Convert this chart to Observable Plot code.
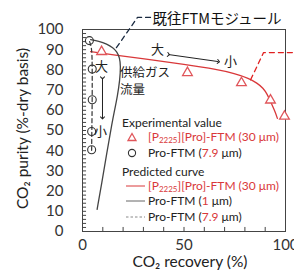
<!DOCTYPE html>
<html><head><meta charset="utf-8">
<script src="https://cdn.jsdelivr.net/npm/d3@7"></script>
<script src="https://cdn.jsdelivr.net/npm/@observablehq/plot@0.6"></script>
<style>
body{margin:0;background:#fff;}
#wrap{position:relative;width:294px;height:270px;overflow:hidden;font-family:Lato,"Open Sans",sans-serif;}
#legend .row{position:absolute;white-space:nowrap;font-size:12px;line-height:14px;color:#222;display:flex;align-items:center;}
#legend .red{color:#d9383a;}
#legend sub{font-size:8px;vertical-align:-2px;line-height:0;}
</style>
</head><body>
<div id="wrap"></div>
<script>
// Experimental: [P2225][Pro]-FTM (30 um)
const redExpX = [9.4, 51.7, 78.3, 92.6, 99.5];
const redExpY = [89, 78.6, 73.6, 65, 57];
// Experimental: Pro-FTM (7.9 um)
const proExpX = [3.4, 4.8, 4.8, 4.5, 4.5];
const proExpY = [94.5, 80.4, 65.2, 49.5, 40.5];
// Predicted: [P2225][Pro]-FTM (30 um)
const redCurveX = [4, 15, 33.5, 50, 66, 75, 82, 86, 89, 91, 93, 95, 96];
const redCurveY = [89, 87.5, 85.1, 82.7, 80.3, 78.2, 75.8, 73.5, 71, 68, 63.5, 59, 56];
// Predicted: Pro-FTM (1 um)
const pro1X = [4, 8, 12, 15, 17, 18.3, 18.8, 18.4, 17.2, 15.8, 14.6, 12, 9.5, 7.2];
const pro1Y = [95, 94.2, 92.8, 91, 89, 86, 82, 75, 67, 60, 54, 39, 24, 11];
// Predicted: Pro-FTM (7.9 um)
const pro79X = [3.5, 4.5, 4.8, 4.8, 4.6, 4.5];
const pro79Y = [94, 91, 85, 65, 50, 40];

const xTickLabels = [0, 50, 100];
const yTickLabels = [0, 10, 20, 30, 40, 50, 60, 70, 80, 90, 100];
const xMinorTicks = [10, 20, 30, 40, 50, 60, 70, 80, 90];
const yMinorTicks = d3.range(2, 100, 2);

const xTitle = "CO₂ recovery (%)";
const yTitle = "CO₂ purity (%-dry basis)";

// annotations (data coordinates)
const jpLabels = [
  {x: 9.4, y: 81.6, t: "大"},
  {x: 8.9, y: 49.3, t: "小"},
  {x: 36.9, y: 90, t: "大"},
  {x: 72.9, y: 84, t: "小"},
];
const feedLabels = [
  {x: 18.5, y: 78.6, t: "供給ガス"},
  {x: 18.5, y: 70.1, t: "流量"}
];
const calloutTitle = [{x: 34.5, y: 105.2, t: "既往FTMモジュール"}];
const arrows = [
  {x1: 9.85, y1: 76.1, x2: 9.85, y2: 56.2},
  {x1: 42.4, y1: 87.6, x2: 67, y2: 84.1}
];
const blackCallout = [[16.7, 91], [27.1, 106], [33.5, 106]];
const redCallout = [[82.8, 75.1], [89.2, 88.6], [106, 88.6]];

const red = "#d9383a";
const redPt = "#e0555a";

const plot = Plot.plot({
  width: 294, height: 270,
  marginLeft: 82, marginRight: 9, marginTop: 29, marginBottom: 39,
  style: {fontFamily: "Lato, 'Open Sans', sans-serif", fontSize: "14px", color: "#333", overflow: "visible"},
  x: {domain: [0, 100], axis: null},
  y: {domain: [0, 100], axis: null},
  marks: [
    Plot.frame({stroke: "#444"}),
    Plot.ruleX(xMinorTicks, {x: d => d, y1: 0, y2: 2, stroke: "#444"}),
    Plot.ruleY(yMinorTicks, {y: d => d, x1: 0, x2: 2, stroke: "#444"}),
    Plot.axisX(xTickLabels, {tickSize: 0, tickPadding: 8, fontSize: 15, label: null}),
    Plot.axisY(yTickLabels, {tickSize: 0, tickPadding: 19, fontSize: 15, label: null}),
    Plot.text([yTitle], {frameAnchor: "left", textAnchor: "middle", lineAnchor: "middle", rotate: -90, dx: -59, dy: -2, fontSize: 15.5, fill: "#222"}),
    Plot.text([xTitle], {frameAnchor: "bottom", textAnchor: "middle", lineAnchor: "middle", dx: 6, dy: 31, fontSize: 15.5, fill: "#222"}),
    // predicted curves
    Plot.line(redCurveX.map((x, i) => [x, redCurveY[i]]), {curve: "basis", stroke: red, strokeWidth: 1.3}),
    Plot.line(pro1X.map((x, i) => [x, pro1Y[i]]), {curve: "basis", stroke: "#444", strokeWidth: 1.3}),
    Plot.line(pro79X.map((x, i) => [x, pro79Y[i]]), {curve: "basis", stroke: "#333", strokeWidth: 1.2, strokeDasharray: "4,3"}),
    // experimental
    Plot.dot(redExpX.map((x, i) => [x, redExpY[i]]), {symbol: "triangle", r: 3.6, stroke: redPt, strokeWidth: 1.3, fill: "white"}),
    Plot.dot(proExpX.map((x, i) => [x, proExpY[i]]), {symbol: "circle", r: 4, stroke: "#333", strokeWidth: 1.1, fill: "none"}),
    // callouts
    Plot.line(blackCallout, {stroke: "#1a2a40", strokeWidth: 1.3, strokeDasharray: "5,4"}),
    Plot.line(redCallout, {stroke: "#e02020", strokeWidth: 1.3, strokeDasharray: "5,4"}),
    Plot.link(arrows, {x1: "x1", y1: "y1", x2: "x2", y2: "y2", stroke: "#222", strokeWidth: 1, markerStart: "arrow", markerEnd: "arrow"}),
    Plot.text(jpLabels, {x: "x", y: "y", text: "t", fontSize: 13, fontFamily: "'Noto Sans CJK JP'", fill: "#222"}),
    Plot.text(feedLabels, {x: "x", y: "y", text: "t", fontSize: 12.5, textAnchor: "start", fontFamily: "'Noto Sans CJK JP'", fill: "#222"}),
    Plot.text(calloutTitle, {x: "x", y: "y", text: "t", fontSize: 14.5, textAnchor: "start", fontFamily: "'Noto Sans CJK JP'", fill: "#111"})
  ]
});

const wrap = document.getElementById("wrap");
wrap.appendChild(plot);

// legend overlay
const tri = `<svg width="20" height="12"><path d="M10,2.5 L14,9.5 L6,9.5 Z" fill="none" stroke="${redPt}" stroke-width="1.3"/></svg>`;
const circ = `<svg width="20" height="12"><circle cx="10" cy="6" r="3.6" fill="none" stroke="#333" stroke-width="1.1"/></svg>`;
const ln = (c, dash) => `<svg width="20" height="12"><line x1="0" x2="19" y1="6" y2="6" stroke="${c}" stroke-width="1" ${dash ? 'stroke-dasharray="2.5,2"' : ''}/></svg>`;
const legendRows = [
  {left: 122, cy: 123, html: `Experimental value`},
  {left: 122, cy: 137, html: `${tri}<span style="margin-left:6px" class="red">[P<sub>2225</sub>][Pro]-FTM (30 μm)</span>`},
  {left: 122, cy: 153, html: `${circ}<span style="margin-left:6px">Pro-FTM (<span class="red">7.9</span> μm)</span>`},
  {left: 122, cy: 172, html: `Predicted curve`},
  {left: 126, cy: 186, html: `${ln(red)}<span style="margin-left:2px" class="red">[P<sub>2225</sub>][Pro]-FTM (30 μm)</span>`},
  {left: 126, cy: 201, html: `${ln("#666")}<span style="margin-left:2px">Pro-FTM (<span class="red">1</span> μm)</span>`},
  {left: 126, cy: 217, html: `${ln("#888", true)}<span style="margin-left:2px">Pro-FTM (<span class="red">7.9</span> μm)</span>`}
];
const legend = document.createElement("div");
legend.id = "legend";
for (const r of legendRows) {
  const d = document.createElement("div");
  d.className = "row";
  d.style.left = r.left + "px";
  d.style.top = (r.cy - 7) + "px";
  d.innerHTML = r.html;
  legend.appendChild(d);
}
wrap.appendChild(legend);
</script>
</body></html>
